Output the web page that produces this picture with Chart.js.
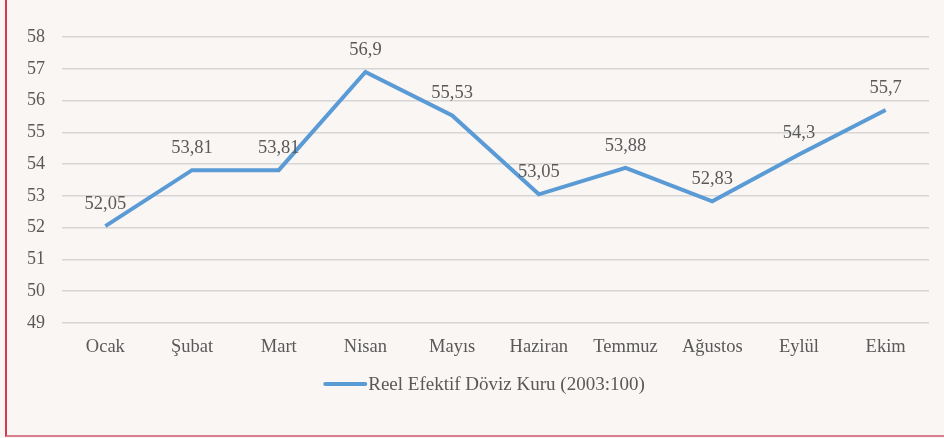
<!DOCTYPE html>
<html>
<head>
<meta charset="utf-8">
<script src="https://cdn.jsdelivr.net/npm/chart.js@4"></script>
<style>
  html, body { margin: 0; padding: 0; background: #faf6f4; }
  #wrap { position: relative; width: 944px; height: 438px; }
  #frame {
    position: absolute; left: 5px; top: -2px; right: -2px; bottom: 1px;
    border-left: 2px solid #d23a55; border-bottom: 2px solid #d9808f;
    pointer-events: none;
  }
</style>
</head>
<body>
<div id="wrap">
  <canvas id="chart" width="944" height="438"></canvas>
  <div id="frame"></div>
</div>
<script>
const months = ["Ocak", "Şubat", "Mart", "Nisan", "Mayıs", "Haziran", "Temmuz", "Ağustos", "Eylül", "Ekim"];
const reelKur = [52.05, 53.81, 53.81, 56.9, 55.53, 53.05, 53.88, 52.83, 54.3, 55.7];
const seriesName = "Reel Efektif Döviz Kuru (2003:100)";

const textColor = "#595959";
const lineColor = "#5b9bd5";
const fontFamily = "'Liberation Serif', 'Times New Roman', serif";

// value labels above each point, comma as decimal separator
const pointLabels = {
  id: "pointLabels",
  afterDatasetsDraw(chart) {
    const ctx = chart.ctx;
    const meta = chart.getDatasetMeta(0);
    ctx.save();
    ctx.font = "18.5px " + fontFamily;
    ctx.fillStyle = textColor;
    ctx.textAlign = "center";
    ctx.textBaseline = "alphabetic";
    meta.data.forEach((pt, i) => {
      const txt = String(reelKur[i]).replace(".", ",");
      ctx.fillText(txt, pt.x, pt.y - 17);
    });
    ctx.restore();
  },
};

// legend drawn by hand: line sample touching the text, like the original
const lineLegend = {
  id: "lineLegend",
  afterDraw(chart) {
    const ctx = chart.ctx;
    ctx.save();
    ctx.font = "19px " + fontFamily;
    const tw = ctx.measureText(seriesName).width;
    const sample = 44;
    const total = sample + 1 + tw;
    const x0 = chart.width / 2 + 12 - total / 2;
    const y = 384;
    ctx.strokeStyle = lineColor;
    ctx.lineWidth = 4;
    ctx.lineCap = "round";
    ctx.beginPath();
    ctx.moveTo(x0 + 2, y);
    ctx.lineTo(x0 + sample - 2, y);
    ctx.stroke();
    ctx.fillStyle = textColor;
    ctx.textAlign = "left";
    ctx.textBaseline = "middle";
    ctx.fillText(seriesName, x0 + sample + 1, y + 1);
    ctx.restore();
  },
};

new Chart(document.getElementById("chart"), {
  type: "line",
  data: {
    labels: months,
    datasets: [
      {
        label: seriesName,
        data: reelKur,
        borderColor: lineColor,
        backgroundColor: lineColor,
        borderWidth: 4,
        pointRadius: 0,
        tension: 0,
      },
    ],
  },
  options: {
    responsive: false,
    animation: false,
    layout: { padding: { top: 37, right: 15, left: 0, bottom: 70 } },
    plugins: {
      legend: { display: false },
      tooltip: { enabled: false },
    },
    scales: {
      x: {
        offset: true,
        grid: { display: false },
        border: { display: false },
        ticks: {
          color: textColor,
          font: { family: fontFamily, size: 18.5 },
          padding: 5,
          maxRotation: 0,
        },
        afterFit(scale) { scale.height = 45; },
      },
      y: {
        min: 49,
        max: 58,
        grid: { color: "#d6d6d6", lineWidth: 1.5, drawTicks: false },
        border: { display: false },
        ticks: {
          stepSize: 1,
          color: textColor,
          font: { family: fontFamily, size: 18 },
          padding: 17,
        },
        afterFit(scale) { scale.width = 62; },
      },
    },
  },
  plugins: [pointLabels, lineLegend],
});
</script>
</body>
</html>
